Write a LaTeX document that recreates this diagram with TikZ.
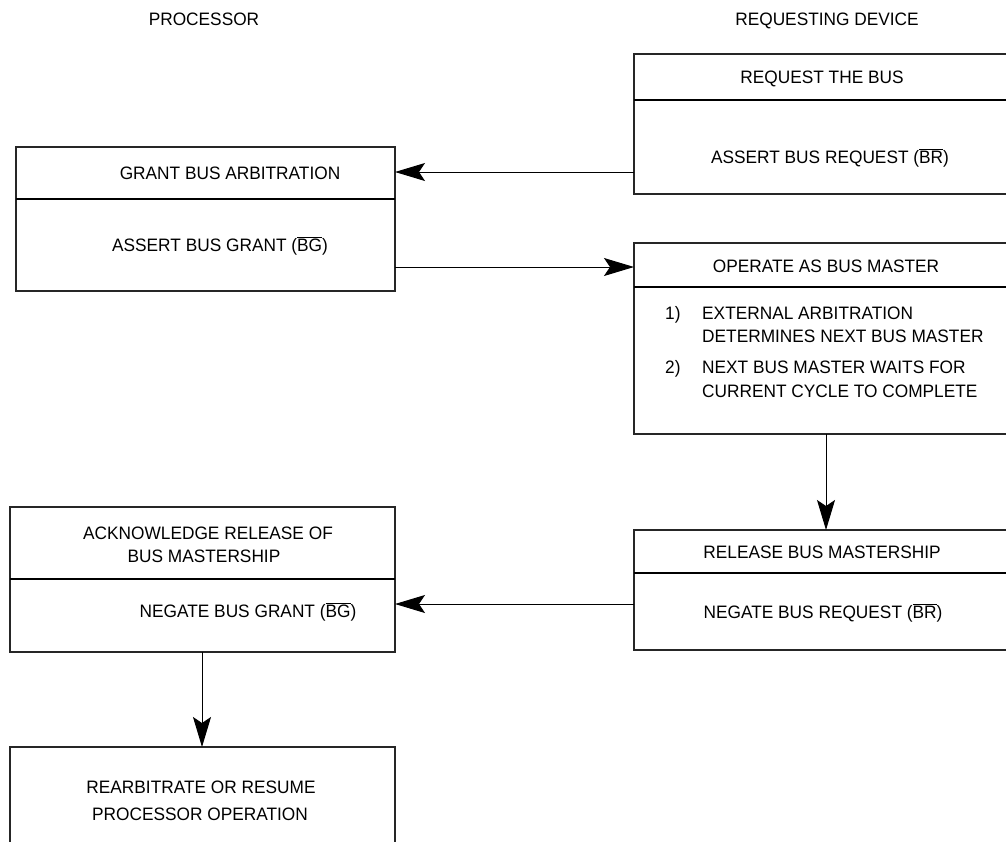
\documentclass[tikz,border=0pt]{standalone}
\usepackage{fontspec}
\setmainfont{Liberation Sans}[FakeStretch=0.96]
\usetikzlibrary{arrows.meta}
\newcommand{\ovl}[1]{$\overline{\hbox{#1}}$}
\tikzset{
  box/.style={draw=black!85, line width=1.1pt, rectangle, inner sep=0pt, outer sep=0pt},
  divider/.style={draw=black, line width=1.1pt},
  lbl/.style={anchor=base, inner sep=0pt, font=\fontsize{18}{22}\selectfont},
  lblw/.style={anchor=base west, inner sep=0pt, font=\fontsize{18}{22}\selectfont},
  arr/.style={draw=black, line width=1pt, -{Stealth[length=30pt, width=18pt, inset=6pt]}}
}
\begin{document}
\begin{tikzpicture}[x=1pt, y=-1pt]
\useasboundingbox (0,0) rectangle (1006,841);
\clip (0,0) rectangle (1006,841);

% column headings
\node[lbl] (hproc) at (204,25) {PROCESSOR};
\node[lbl] (hreq) at (827,25) {REQUESTING DEVICE};

% requesting device: request the bus
\node[box, minimum width=386pt, minimum height=140pt] (reqbox) at (827,124) {};
\draw[divider] (reqbox.west |- 0,100) -- (reqbox.east |- 0,100);
\node[lbl] (reqt) at (822,83.5) {REQUEST THE BUS};
\node[lbl] (reqb) at (830,163) {ASSERT BUS REQUEST (\ovl{BR})};

% processor: grant bus arbitration
\node[box, minimum width=379pt, minimum height=144pt] (grantbox) at (205.5,219) {};
\draw[divider] (grantbox.west |- 0,199) -- (grantbox.east |- 0,199);
\node[lbl] (grantt) at (230,179.5) {GRANT BUS ARBITRATION};
\node[lbl] (grantb) at (220,251.5) {ASSERT BUS GRANT (\ovl{BG})};

% requesting device: operate as bus master
\node[box, minimum width=386pt, minimum height=191pt] (opbox) at (827,338.5) {};
\draw[divider] (opbox.west |- 0,287) -- (opbox.east |- 0,287);
\node[lbl] (opt) at (826,272) {OPERATE AS BUS MASTER};
\node[lblw] (opn1) at (665,319) {1)};
\node[lblw] (opl1) at (702,319) {EXTERNAL ARBITRATION};
\node[lblw] (opl2) at (702,342) {DETERMINES NEXT BUS MASTER};
\node[lblw] (opn2) at (665,373) {2)};
\node[lblw] (opl3) at (702,373) {NEXT BUS MASTER WAITS FOR};
\node[lblw] (opl4) at (702,397) {CURRENT CYCLE TO COMPLETE};

% requesting device: release bus mastership
\node[box, minimum width=386pt, minimum height=120pt] (relbox) at (827,590) {};
\draw[divider] (relbox.west |- 0,573) -- (relbox.east |- 0,573);
\node[lbl] (relt) at (822,558) {RELEASE BUS MASTERSHIP};
\node[lbl] (relb) at (823,618) {NEGATE BUS REQUEST (\ovl{BR})};

% processor: acknowledge release
\node[box, minimum width=385pt, minimum height=145pt] (ackbox) at (202.5,579.5) {};
\draw[divider] (ackbox.west |- 0,579) -- (ackbox.east |- 0,579);
\node[lbl] (ackt1) at (208,539) {ACKNOWLEDGE RELEASE OF};
\node[lbl] (ackt2) at (204,562) {BUS MASTERSHIP};
\node[lbl] (ackb) at (248,617) {NEGATE BUS GRANT (\ovl{BG})};

% processor: rearbitrate or resume
\node[box, minimum width=385pt, minimum height=140pt] (resbox) at (202.5,817) {};
\node[lbl] (res1) at (201,793) {REARBITRATE OR RESUME};
\node[lbl] (res2) at (200,820) {PROCESSOR OPERATION};

% handshake arrows
\draw[arr] (reqbox.west |- 0,172) -- (grantbox.east |- 0,172);
\draw[arr] (grantbox.east |- 0,267) -- (opbox.west |- 0,267);
\draw[arr] (opbox.south -| 826,0) -- (relbox.north -| 826,0);
\draw[arr] (relbox.west |- 0,604) -- (ackbox.east |- 0,604);
\draw[arr] (ackbox.south -| 202,0) -- (resbox.north -| 202,0);
\end{tikzpicture}
\end{document}
